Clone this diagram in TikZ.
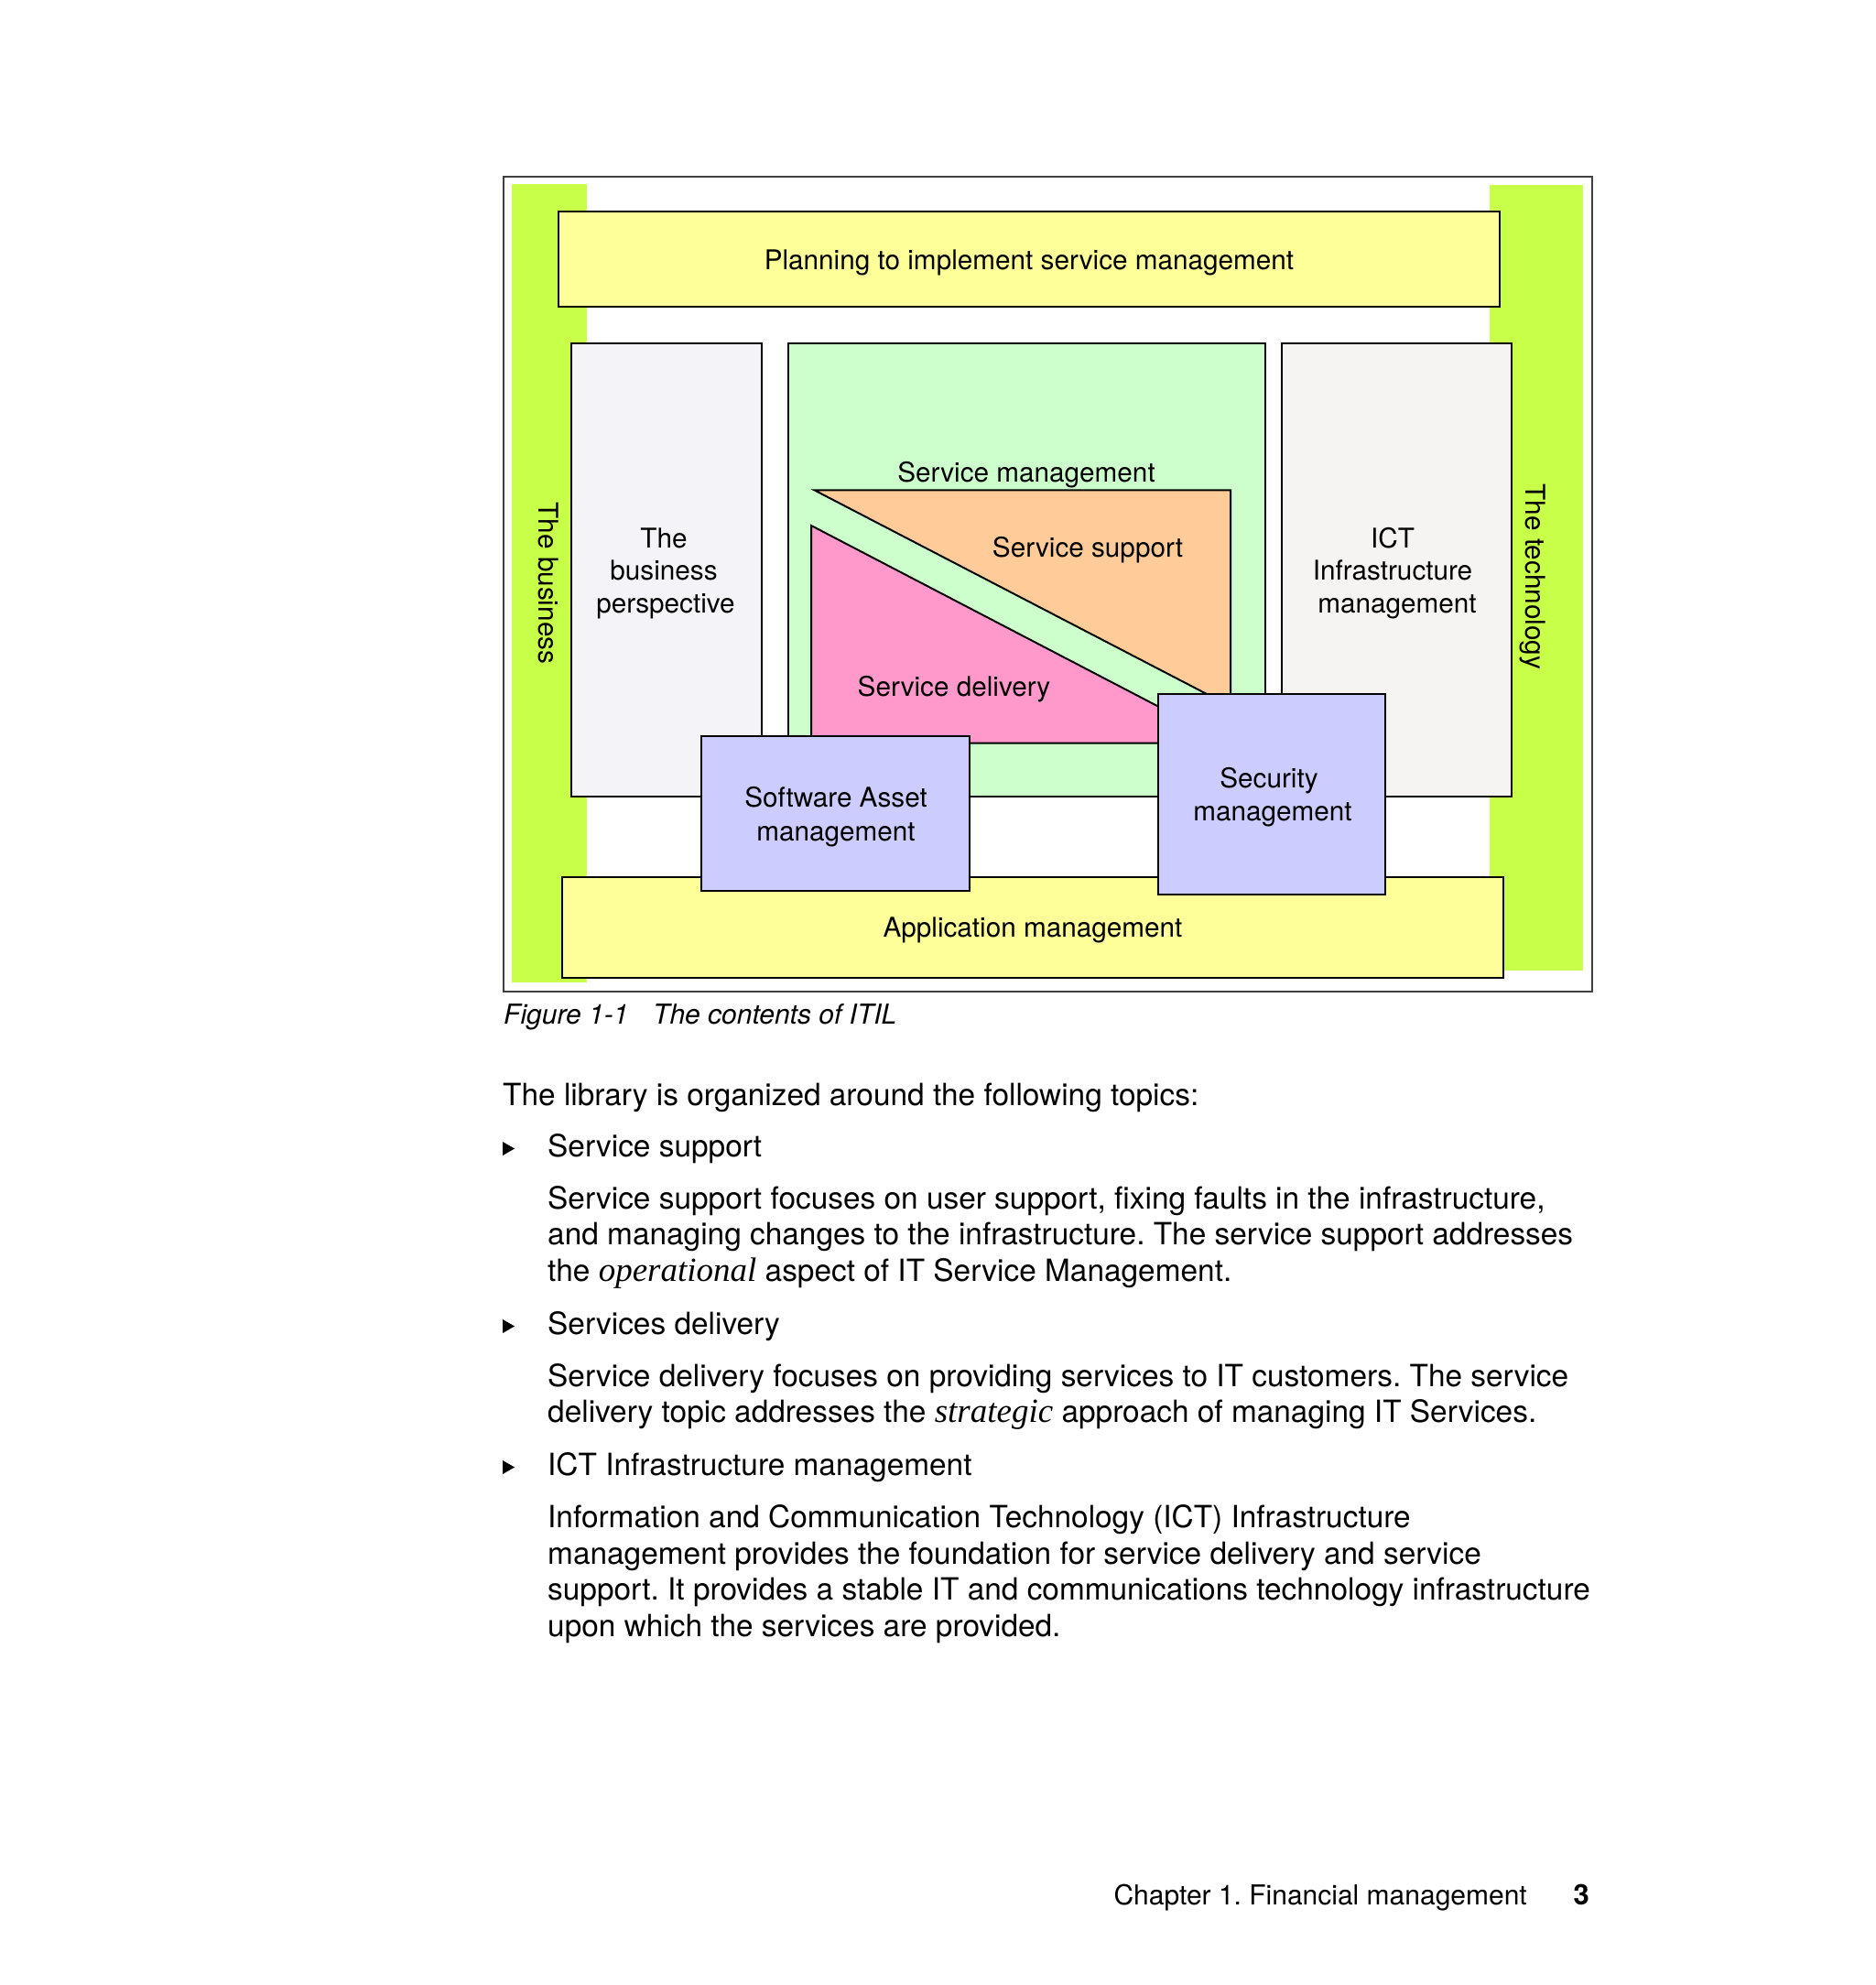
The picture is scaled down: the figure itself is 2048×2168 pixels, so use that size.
\documentclass[tikz,border=0pt]{standalone}
\usepackage{fontspec}
\setmainfont{TeX Gyre Heros}
\newfontfamily\timesfam{Liberation Serif}
\frenchspacing
\definecolor{barG}{RGB}{200,255,72}
\definecolor{yel}{RGB}{255,255,153}
\definecolor{bizG}{RGB}{244,243,247}
\definecolor{ictG}{RGB}{245,244,242}
\definecolor{smG}{RGB}{204,255,204}
\definecolor{orng}{RGB}{255,204,153}
\definecolor{pnk}{RGB}{255,153,204}
\definecolor{blu}{RGB}{204,204,255}
\newcommand{\tsit}[1]{{\fontsize{37}{39.5}\timesfam\itshape #1}}
\tikzset{
  boxline/.style={draw=black, line width=2pt},
  lbl/.style={font=\fontsize{29.7}{35.7}\selectfont, inner sep=0pt, anchor=base},
  body/.style={font=\fontsize{33.4}{39.5}\selectfont, inner sep=0pt, anchor=base west},
  capt/.style={font=\fontsize{30}{36}\selectfont\itshape, inner sep=0pt, anchor=base west},
  bul/.style={fill=black},
}
\begin{document}
\begin{tikzpicture}[x=1pt,y=-1pt]
\useasboundingbox (0,0) rectangle (2048,2168);
\fill[white] (0,0) rectangle (2048,2168);
% frame
\draw[black!75, line width=2pt] (549.8,192.5) rectangle (1738.5,1083.3);
% side bars
\fill[barG] (558.75,201.4) rectangle (641.3,1073.3);
\fill[barG] (1627,202) rectangle (1729,1060);
% boxes
\filldraw[boxline, fill=yel] (610,230.7) rectangle (1638,335.4);
\filldraw[boxline, fill=bizG] (623.5,375.4) rectangle (832.4,870);
\filldraw[boxline, fill=smG] (860.5,375.4) rectangle (1382,870);
\filldraw[boxline, fill=ictG] (1400,375.4) rectangle (1650.5,870);
\filldraw[boxline, fill=orng] (889.6,535.4) -- (1344,535.4) -- (1344,771.5) -- cycle;
\filldraw[boxline, fill=pnk] (886,574) -- (886,811.7) -- (1342,811.7) -- cycle;
\filldraw[boxline, fill=yel] (614,957.7) rectangle (1641.7,1068.3);
\filldraw[boxline, fill=blu] (766,804) rectangle (1059,973.3);
\filldraw[boxline, fill=blu] (1265.4,758.3) rectangle (1512.5,977.3);
% labels
\node[lbl] (plan) at (1124,294) {Planning to implement service management};
\node[lbl] (sm) at (1121,526) {Service management};
\node[lbl] (ss) at (1188,608.6) {Service support};
\node[lbl] (sd) at (1042,760) {Service delivery};
\node[lbl] (bp1) at (725,598) {The};
\node[lbl] (bp2) at (725,633.6) {business};
\node[lbl] (bp3) at (727,669) {perspective};
\node[lbl] (ict1) at (1521,598) {ICT};
\node[lbl] (ict2) at (1521,633.6) {Infrastructure};
\node[lbl] (ict3) at (1526,669) {management};
\node[lbl] (sa1) at (913,881.7) {Software Asset};
\node[lbl] (sa2) at (913,918) {management};
\node[lbl] (sec1) at (1386,860.7) {Security};
\node[lbl] (sec2) at (1390,896.7) {management};
\node[lbl] (app) at (1128,1023) {Application management};
\node[lbl, rotate=-90] (tb) at (588,637) {The business};
\node[lbl, rotate=-90] (tt) at (1666,630) {The technology};
% caption
\node[capt] (fig) at (550,1118) {Figure 1-1};
\node[capt] (figt) at (713,1118) {The contents of ITIL};
% body
\node[body] (l0) at (549,1207) {The library is organized around the following topics:};
\fill[bul] (549,1247) -- (549,1262) -- (562,1254.5) -- cycle;
\node[body] (h1) at (598,1263) {Service support};
\node[body] (p11) at (598,1320) {Service support focuses on user support, fixing faults in the infrastructure,};
\node[body] (p12) at (598,1359) {and managing changes to the infrastructure. The service support addresses};
\node[body] (p13) at (598,1399) {the \tsit{operational} aspect of IT Service Management.};
\fill[bul] (549,1441) -- (549,1456) -- (562,1448.5) -- cycle;
\node[body] (h2) at (598,1457) {Services delivery};
\node[body] (p21) at (598,1514) {Service delivery focuses on providing services to IT customers. The service};
\node[body] (p22) at (598,1553) {delivery topic addresses the \tsit{strategic} approach of managing IT Services.};
\fill[bul] (549,1595) -- (549,1610) -- (562,1602.5) -- cycle;
\node[body] (h3) at (598,1611) {ICT Infrastructure management};
\node[body] (p31) at (598,1668) {Information and Communication Technology (ICT) Infrastructure};
\node[body] (p32) at (598,1708) {management provides the foundation for service delivery and service};
\node[body] (p33) at (598,1747) {support. It provides a stable IT and communications technology infrastructure};
\node[body] (p34) at (598,1787) {upon which the services are provided.};
% footer
\node[font=\fontsize{30}{36}\selectfont, inner sep=0pt, anchor=base east] (foot) at (1668,2080) {Chapter 1. Financial management};
\node[font=\fontsize{31}{36}\selectfont\bfseries, inner sep=0pt, anchor=base east] (pg) at (1736,2080) {3};
\end{tikzpicture}
\end{document}
